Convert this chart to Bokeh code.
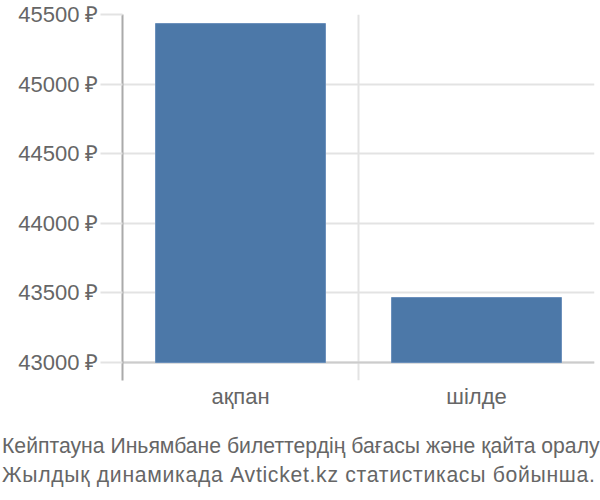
from bokeh.plotting import figure
from bokeh.models import Range1d, FixedTicker, PrintfTickFormatter, Grid, FactorRange, Div
from bokeh.layouts import column
from bokeh.embed import file_html
from bokeh.resources import INLINE

categories = ["ақпан", "шілде"]
prices = [45435, 43467]
y_ticks = [43000, 43500, 44000, 44500, 45000, 45500]
y_start = 42871
y_end = 45500
baseline = 43000
title_lines = [
    "Кейптауна Иньямбане билеттердің бағасы және қайта оралу",
    "Жылдық динамикада Avticket.kz статистикасы бойынша.",
]

FONT = "Liberation Sans"
TXT = "#666666"

p = figure(x_range=FactorRange(*categories, range_padding=0), y_range=Range1d(y_start, y_end),
           width=598, height=431, output_backend="svg", toolbar_location=None,
           min_border_left=122, min_border_right=4, min_border_top=14, min_border_bottom=51)
p.frame_width = 472
p.frame_height = 366
p.outline_line_color = None

p.vbar(x=categories, top=prices, bottom=baseline, width=0.72,
       fill_color="#4c78a8", line_color="#6a8fbb", line_width=1)

# y axis
p.yaxis.ticker = FixedTicker(ticks=y_ticks)
p.yaxis.formatter = PrintfTickFormatter(format="%d ₽")
p.yaxis.axis_line_color = "#aaaaaa"
p.yaxis.axis_line_width = 2
p.yaxis.major_tick_out = 22
p.yaxis.major_tick_in = 0
p.yaxis.major_tick_line_color = "#e3e3e3"
p.yaxis.major_tick_line_width = 2
p.yaxis.minor_tick_line_color = None
p.yaxis.major_label_standoff = 2
p.yaxis.major_label_text_font = FONT
p.yaxis.major_label_text_font_size = "22px"
p.yaxis.major_label_text_color = TXT

p.ygrid.ticker = FixedTicker(ticks=y_ticks)
p.ygrid.grid_line_color = "#e3e3e3"
p.ygrid.grid_line_width = 2
base_grid = Grid(dimension=1, ticker=FixedTicker(ticks=[baseline]),
                 grid_line_color="#cccccc", grid_line_width=2)
p.add_layout(base_grid)

# x axis
p.xaxis.axis_line_color = None
p.xaxis.major_tick_line_color = None
p.xaxis.minor_tick_line_color = None
p.xaxis.major_label_standoff = -3
p.xaxis.major_label_text_font = FONT
p.xaxis.major_label_text_font_size = "22px"
p.xaxis.major_label_text_color = TXT
p.xgrid.ticker = FixedTicker(ticks=[0, 1, 2])
p.xgrid.grid_line_color = "#e3e3e3"
p.xgrid.grid_line_width = 2

caption_html = (
    '<span>' + title_lines[0] + '</span><br>'
    '<span style="letter-spacing:0.7px">' + title_lines[1] + '</span>'
)
caption = Div(
    text=caption_html,
    width=598, height=60, margin=0,
    styles={
        "font-family": "'Liberation Sans', sans-serif",
        "font-size": "21.2px",
        "line-height": "29px",
        "color": TXT,
        "white-space": "nowrap",
        "padding-left": "2px",
    },
)

layout = column(p, caption, spacing=0)
open("out.html", "w").write(file_html(layout, INLINE))
